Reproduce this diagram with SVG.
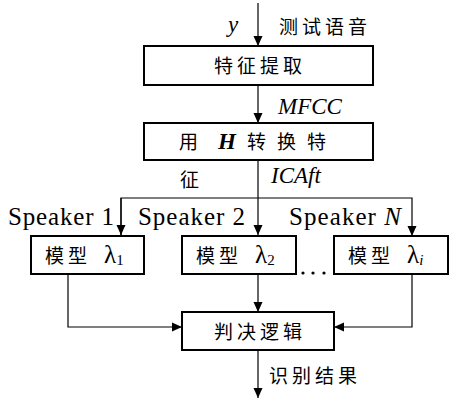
<svg xmlns="http://www.w3.org/2000/svg" width="451" height="399" viewBox="0 0 451 399">
<style>
.box{fill:#fff;stroke:#000;stroke-width:2}
.ln{fill:none;stroke:#000;stroke-width:1.2}
.cjk{font-family:'Noto Sans CJK SC','Noto Sans',sans-serif;font-size:19px;fill:#000}
.mi{font-family:'Liberation Serif','DejaVu Serif',serif;font-style:italic;font-size:23px;fill:#000}
.rm{font-family:'Liberation Serif','DejaVu Serif',serif;font-size:25px;fill:#000}
</style>
<defs>
<marker id="ah" markerWidth="10" markerHeight="12" refX="10" refY="5" orient="auto" markerUnits="userSpaceOnUse">
<path d="M0,0.5 L10,5 L0,9.5 z" fill="#000"/>
</marker>
</defs>
<g id="connectors">
<path class="ln" d="M258,3 V46" marker-end="url(#ah)"/>
<path class="ln" d="M258,86 V123" marker-end="url(#ah)"/>
<path class="ln" d="M258,160 V235" marker-end="url(#ah)"/>
<path class="ln" d="M121,235 V198 H412 V236" marker-end="url(#ah)"/>
<path class="ln" d="M121,198 V235" marker-end="url(#ah)"/>
<path class="ln" d="M68,274 V327 H182" marker-end="url(#ah)"/>
<path class="ln" d="M258,274 V312" marker-end="url(#ah)"/>
<path class="ln" d="M412,274 V327 H334" marker-end="url(#ah)"/>
<path class="ln" d="M258,351 V398" marker-end="url(#ah)"/>
<circle cx="303" cy="273" r="1.6"/>
<circle cx="313" cy="273" r="1.6"/>
<circle cx="324" cy="273" r="1.6"/>
</g>
<g id="labels">
<text class="mi" x="228" y="32">y</text>
<text class="cjk" x="279" y="34" letter-spacing="4">测试语音</text>
<text class="mi" x="278" y="114">MFCC</text>
<text class="cjk" x="180" y="187">征</text>
<text class="mi" x="271" y="183">ICAft</text>
<text class="rm" x="8" y="225" textLength="106" lengthAdjust="spacing">Speaker 1</text>
<text class="rm" x="138" y="225" textLength="107" lengthAdjust="spacing">Speaker 2</text>
<text class="rm" x="289" y="225" textLength="112" lengthAdjust="spacing">Speaker <tspan font-style="italic">N</tspan></text>
<text class="cjk" x="269" y="383" letter-spacing="4">识别结果</text>
</g>
<g id="feature">
<rect class="box" x="144" y="46" width="229" height="39"/>
<text class="cjk" x="260" y="73" text-anchor="middle" letter-spacing="4">特征提取</text>
</g>
<g id="transform">
<rect class="box" x="144" y="123" width="229" height="37"/>
<text class="cjk" x="179" y="149">用</text>
<text class="mi" x="218" y="149" font-weight="bold">H</text>
<text class="cjk" x="247" y="149" letter-spacing="11">转换特</text>
</g>
<g id="model1">
<rect class="box" x="31" y="236" width="113" height="38"/>
<text class="cjk" x="45" y="263" letter-spacing="4">模型</text>
<text class="rm" x="104" y="263">λ<tspan font-size="15" dy="2">1</tspan></text>
</g>
<g id="model2">
<rect class="box" x="182" y="236" width="114" height="38"/>
<text class="cjk" x="196" y="263" letter-spacing="4">模型</text>
<text class="rm" x="255" y="263">λ<tspan font-size="15" dy="2">2</tspan></text>
</g>
<g id="modelN">
<rect class="box" x="334" y="236" width="114" height="38"/>
<text class="cjk" x="348" y="263" letter-spacing="4">模型</text>
<text class="rm" x="407" y="263">λ<tspan font-size="15" dy="2" font-style="italic">i</tspan></text>
</g>
<g id="decision">
<rect class="box" x="182" y="312" width="152" height="38"/>
<text class="cjk" x="260" y="339" text-anchor="middle" letter-spacing="4">判决逻辑</text>
</g>
</svg>
